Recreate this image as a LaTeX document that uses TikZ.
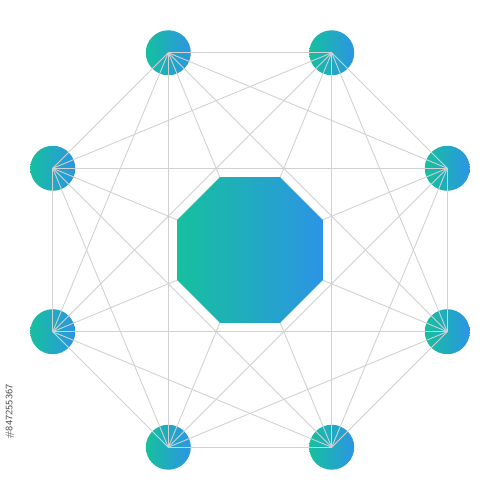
\documentclass[tikz,border=0pt]{standalone}
\usepackage{tikz}
\usetikzlibrary{shapes.geometric}

\definecolor{tealgreen}{RGB}{22,192,158}
\definecolor{skyblue}{RGB}{44,148,228}
\tikzset{
  hub/.style={circle, minimum size=0.9cm, inner sep=0pt, outer sep=0pt,
    left color=tealgreen, right color=skyblue},
  link/.style={draw=black!18, line width=0.5pt},
}

\begin{document}
\begin{tikzpicture}[scale=1.0]
        \useasboundingbox (-5,-5) rectangle (5,5);

        % outer ring of hubs
        \foreach \i in {1,...,8}
            \node[hub] (v\i) at ({22.5+45*(\i-1)}:4.27) {};

        % every hub linked to every other
        \foreach \i in {1,...,7}{
            \pgfmathtruncatemacro\nxt{\i+1}
            \foreach \j in {\nxt,...,8}
                \draw[link] (v\i.center) -- (v\j.center);
        }

        \node[regular polygon, regular polygon sides=8, minimum size=3.15cm,
              inner sep=0pt, outer sep=0pt,
              left color=tealgreen, right color=skyblue] (core) at (0,0) {};

        \node[rotate=90, font=\sffamily\fontsize{5.6}{6}\selectfont, text=black!70]
            (stockid) at (-4.8,-3.24) {\#847255367};

    \end{tikzpicture}
\end{document}
